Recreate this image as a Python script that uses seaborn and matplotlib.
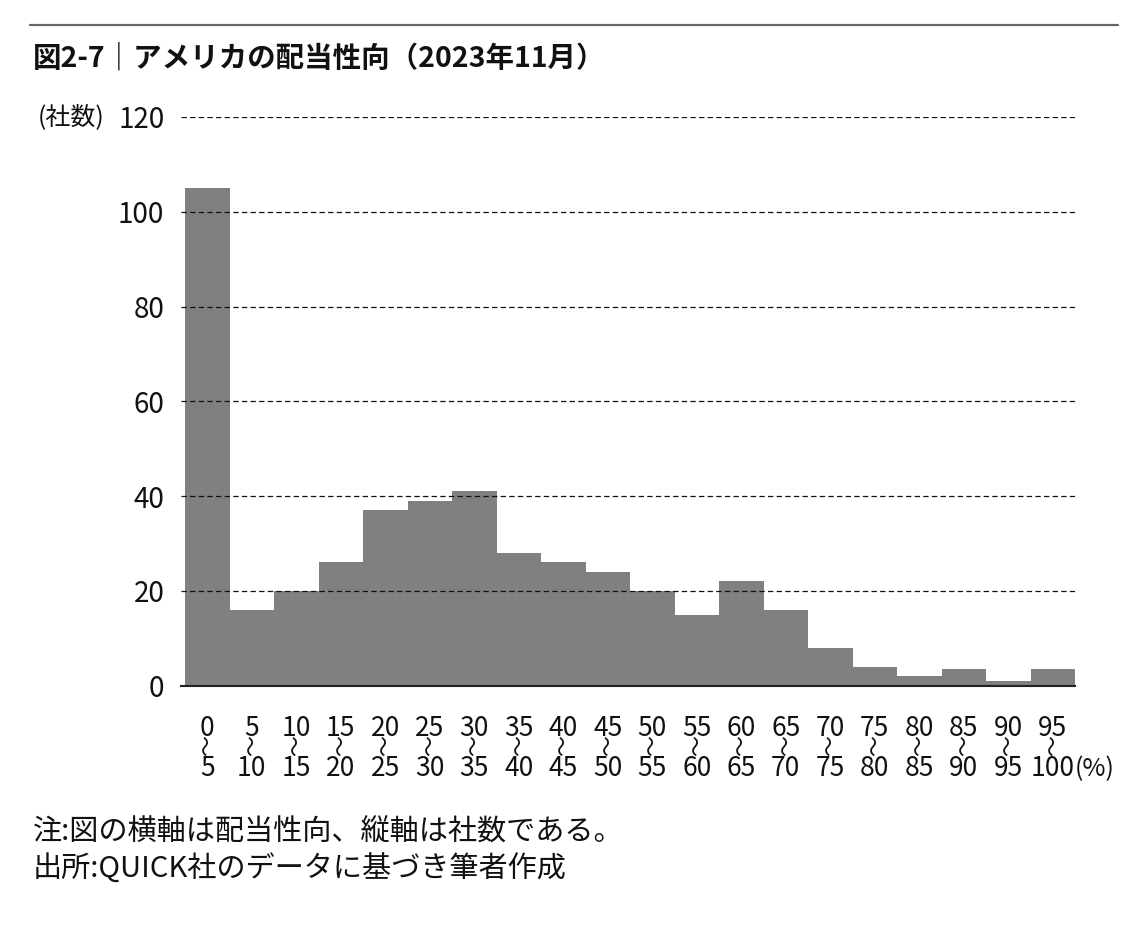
import matplotlib
matplotlib.use("Agg")
import matplotlib.pyplot as plt
from matplotlib.lines import Line2D
import seaborn as sns
import pandas as pd

# ---- data ----
bin_low = [0, 5, 10, 15, 20, 25, 30, 35, 40, 45, 50, 55, 60, 65, 70, 75, 80, 85, 90, 95]
bin_high = [5, 10, 15, 20, 25, 30, 35, 40, 45, 50, 55, 60, 65, 70, 75, 80, 85, 90, 95, 100]
counts = [105, 16, 20, 26, 37, 39, 41, 28, 26, 24, 20, 15, 22, 16, 8, 4, 2, 3.5, 1, 3.5]
y_ticks = [0, 20, 40, 60, 80, 100, 120]

title = "図2-7｜アメリカの配当性向（2023年11月）"
y_unit = "(社数)"
x_unit = "(%)"
range_mark = "〜"
note1 = "注:図の横軸は配当性向、縦軸は社数である。"
note2 = "出所:QUICK社のデータに基づき筆者作成"

labels = [f"{lo}〜{hi}" for lo, hi in zip(bin_low, bin_high)]
df = pd.DataFrame({"bin": labels, "count": counts})

sns.set_style("white")
plt.rcParams["font.family"] = ["Noto Sans CJK JP", "DejaVu Sans"]

W, H = 1140, 932
ax_bottom_px, ax_top_px = 685.7, 117
ax_h = ax_bottom_px - ax_top_px
fig = plt.figure(figsize=(W / 100, H / 100), dpi=100)
ax = fig.add_axes([181 / W, (H - ax_bottom_px) / H, (1075 - 181) / W, ax_h / H])

sns.barplot(data=df, x="bin", y="count", color="#808080", saturation=1,
            width=1.0, linewidth=0, edgecolor="none", ax=ax, zorder=1)

ax.set_ylim(0, 120)
ax.set_xlim(-0.59, len(labels) - 0.5)
ax.set_yticks(y_ticks)
ax.set_yticklabels([str(v) for v in y_ticks], fontsize=20, color="#111111")
ax.tick_params(axis="y", length=0, pad=12)

# x tick labels: lower bound on the tick label, range mark and upper bound below it
xt = ax.get_xticks()
ax.set_xticks(xt)
ax.set_xticklabels([str(v) for v in bin_low], fontsize=19, color="#111111")
ax.tick_params(axis="x", length=0, pad=21)
xtrans = ax.get_xaxis_transform()
for x, hi in zip(xt, bin_high):
    ax.text(x, -(746 - ax_bottom_px) / ax_h, range_mark, transform=xtrans,
            rotation=90, fontsize=15, ha="center", va="center", color="#111111")
    ax.text(x, -(776 - ax_bottom_px) / ax_h, str(hi), transform=xtrans,
            fontsize=19, ha="center", va="baseline", color="#111111")

ax.set_xlabel("")
ax.set_ylabel("")

ax.set_axisbelow(False)
ax.yaxis.grid(True, linestyle=(0, (4.3, 2.6)), color="#111111", linewidth=0.9)
ax.xaxis.grid(False)
for s in ["top", "right", "left"]:
    ax.spines[s].set_visible(False)
ax.spines["bottom"].set_color("#222222")
ax.spines["bottom"].set_linewidth(1.5)
ax.spines["bottom"].set_zorder(3)

# unit labels
fig.text(38 / W, 1 - 117 / H, y_unit, fontsize=18, va="center", ha="left", color="#111111")
ax.text(1.0, -(776 - ax_bottom_px) / ax_h, x_unit, transform=ax.transAxes, fontsize=18,
        va="baseline", ha="left", color="#111111")

# title & rule
fig.add_artist(Line2D([30 / W, 1118 / W], [1 - 25 / H, 1 - 25 / H],
                      color="#666666", linewidth=1.6, transform=fig.transFigure))
fig.text(33 / W, 1 - 58 / H, title, fontsize=20.5, fontweight="bold", va="center", ha="left", color="#111111")

# notes
fig.text(33 / W, 1 - 833 / H, note1, fontsize=21, va="center", ha="left", color="#111111")
fig.text(33 / W, 1 - 870 / H, note2, fontsize=21, va="center", ha="left", color="#111111")

fig.savefig("out.png", dpi=100, facecolor="white")
